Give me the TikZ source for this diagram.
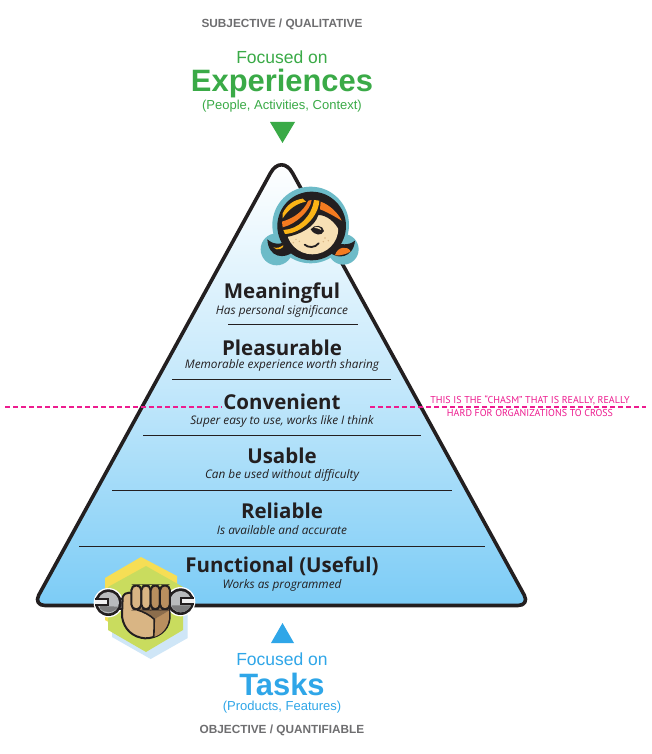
\documentclass[tikz,border=0pt]{standalone}
\usepackage{fontspec}
\setmainfont{Open Sans}
\newfontfamily\arialf{Liberation Sans}
\newfontfamily\condf{PT Sans}
\definecolor{exgreen}{HTML}{3AAA47}
\definecolor{taskblue}{HTML}{2FA6E8}
\definecolor{hdgray}{HTML}{6E6E70}
\definecolor{ink}{HTML}{231F20}
\definecolor{chasmc}{rgb}{0.93,0.11,0.56}
\definecolor{skyb}{HTML}{7CCCF6}
\definecolor{teal}{HTML}{6DBBC8}
\definecolor{hairo}{HTML}{F47B20}
\definecolor{hairy}{HTML}{FBB416}
\definecolor{skin}{HTML}{F7E0B5}
\definecolor{handl}{HTML}{D9B584}
\definecolor{handd}{HTML}{B98F5F}
\definecolor{hexy}{HTML}{F6DE55}
\definecolor{hexg}{HTML}{C9DC5E}
\definecolor{hexb}{HTML}{CFE6F7}
\definecolor{steel}{HTML}{B9BBBD}
\tikzset{
  x=1pt,y=-1pt,
  hdr/.style={font=\arialf\bfseries\fontsize{11.8}{14}\selectfont,text=hdgray,inner sep=0pt},
  focus/.style={font=\arialf\fontsize{17.5}{20}\selectfont,inner sep=0pt},
  big/.style={font=\arialf\bfseries\fontsize{30.9}{33}\selectfont,inner sep=0pt},
  paren/.style={font=\arialf\fontsize{13}{15}\selectfont,inner sep=0pt},
  level/.style={font=\fontsize{20.5}{23}\selectfont\bfseries,text=ink,inner sep=0pt},
  sub/.style={font=\fontsize{11.8}{14}\selectfont\itshape,text=ink,inner sep=0pt},
  sep/.style={draw=ink,line width=1pt},
  chasmline/.style={draw=chasmc,line width=1.1pt,dash pattern=on 4.5pt off 3.5pt},
  chasmtext/.style={font=\condf\fontsize{10}{12.8}\selectfont,text=chasmc,align=center,inner sep=0pt},
  zoomA/.style={shift={(240,150)},x=0.3333pt,y=-0.3333pt},
  zoomB/.style={shift={(20,540)},x=0.3333pt,y=-0.3333pt},
}
\begin{document}
\begin{tikzpicture}
\useasboundingbox[fill=white] (0,0) rectangle (651,754);

% pyramid
\path[draw=ink,line width=3.6pt,line join=round,top color=white,bottom color=skyb,middle color=skyb!45!white]
  (270.4,173.2) .. controls (276.5,162) and (286.5,162) .. (292.6,173.2)
  -- (524.2,595) .. controls (527.4,600.8) and (524.6,605.5) .. (518,605.5)
  -- (45,605.5) .. controls (38.4,605.5) and (35.6,600.8) .. (38.8,595) -- cycle;

% separators
\coordinate (s1a) at (228,324); \coordinate (s1b) at (358,324);
\coordinate (s2a) at (172,379); \coordinate (s2b) at (391,379);
\coordinate (s3a) at (143,435); \coordinate (s3b) at (421,435);
\coordinate (s4a) at (112,490); \coordinate (s4b) at (452,490);
\coordinate (s5a) at (79,546);  \coordinate (s5b) at (485,546);
\draw[sep] (s1a) -- (s1b);
\draw[sep] (s2a) -- (s2b);
\draw[sep] (s3a) -- (s3b);
\draw[sep] (s4a) -- (s4b);
\draw[sep] (s5a) -- (s5b);

% chasm
\coordinate (c1a) at (5,407); \coordinate (c1b) at (222,407);
\coordinate (c2a) at (370,407); \coordinate (c2b) at (646,407);
\draw[chasmline] (c1a) -- (c1b);
\draw[chasmline] (c2a) -- (c2b);
\node[chasmtext] (chasmlabel) at (530,406.5) {THIS IS THE “CHASM” THAT IS REALLY, REALLY\\HARD FOR ORGANIZATIONS TO CROSS};

% header texts
\node[hdr] (subj) at (282,24) {SUBJECTIVE / QUALITATIVE};
\node[focus,text=exgreen] (f1) at (282,57) {Focused on};
\node[big,text=exgreen] (exper) at (282,84) {Experiences};
\node[paren,text=exgreen] (p1) at (282,106) {(People, Activities, Context)};
\fill[exgreen] (270,122) -- (295,122) -- (282.5,143) -- cycle;

% levels
\node[level] (l1) at (282,293) {Meaningful};
\node[sub] (d1) at (282,311) {Has personal significance};
\node[level] (l2) at (282,348) {Pleasurable};
\node[sub] (d2) at (282,365) {Memorable experience worth sharing};
\node[level] (l3) at (282,402) {Convenient};
\node[sub] (d3) at (282,421) {Super easy to use, works like I think};
\node[level] (l4) at (282,456) {Usable};
\node[sub] (d4) at (282,475) {Can be used without difficulty};
\node[level] (l5) at (282,511) {Reliable};
\node[sub] (d5) at (282,530) {Is available and accurate};
\node[level] (l6) at (282,566) {Functional (Useful)};
\node[sub] (d6) at (282,585) {Works as programmed};

% footer
\fill[taskblue] (271,643) -- (294,643) -- (282.5,623) -- cycle;
\node[focus,text=taskblue] (f2) at (282,659) {Focused on};
\node[big,text=taskblue] (tasks) at (282,684) {Tasks};
\node[paren,text=taskblue] (p2) at (282,707) {(Products, Features)};
\node[hdr] (obj) at (282,730) {OBJECTIVE / QUANTIFIABLE};

% ---------- girl face (coordinates of a 3x crop)
\begin{scope}[zoomA]
\fill[teal] (212,225) circle (115);
\fill[teal] (110,298) circle (48);
\fill[teal] (310,298) circle (46);
\fill[ink] (82,268) .. controls (100,285) and (125,285) .. (145,270) -- (160,305) .. controls (135,328) and (85,325) .. (82,268) -- cycle;
\fill[ink] (345,272) .. controls (325,288) and (300,285) .. (280,272) -- (268,305) .. controls (290,330) and (340,325) .. (345,272) -- cycle;
\fill[hairy] (100,292) .. controls (112,296) and (122,292) .. (132,284) .. controls (130,296) and (112,305) .. (100,292) -- cycle;
\fill[hairo] (332,304) .. controls (322,312) and (300,318) .. (285,316) .. controls (292,290) and (322,286) .. (332,304) -- cycle;
\fill[ink] (215,228) circle (103);
\fill[skin] (217,235) circle (78);
% hair mass over the brow
\fill[ink] (120,262) -- (125,180) .. controls (150,135) and (280,120) .. (315,215) -- (300,245) .. controls (285,215) and (260,195) .. (235,195) .. controls (225,230) and (180,255) .. (135,262) -- cycle;
\fill[hairy] (128,190) .. controls (140,165) and (160,150) .. (188,146) -- (198,155) .. controls (170,160) and (145,178) .. (128,205) -- cycle;
\fill[hairo] (126,215) .. controls (160,205) and (190,185) .. (205,152) -- (215,150) .. controls (212,180) and (170,222) .. (128,232) -- cycle;
\fill[hairy] (130,240) .. controls (175,238) and (215,200) .. (222,150) -- (238,152) .. controls (236,200) and (185,250) .. (135,252) -- cycle;
\fill[hairo] (242,155) .. controls (270,165) and (295,190) .. (305,212) .. controls (285,200) and (260,185) .. (240,178) -- cycle;
% eye, mouth, freckles
\fill[ink] (212,238) .. controls (222,222) and (250,225) .. (252,243) .. controls (245,258) and (225,258) .. (212,238) -- cycle;
\fill[skin] (222,233) .. controls (232,228) and (242,232) .. (244,240) .. controls (238,236) and (230,235) .. (222,233) -- cycle;
\draw[ink,line width=1.8pt,line cap=round] (194,284) .. controls (205,294) and (225,294) .. (236,280);
\foreach \fa/\fb in {168/268,178/274,160/278,255/264,265/272,250/275}{\fill[handl] (\fa,\fb) circle (2.4);}
\end{scope}

% ---------- hexagons
\fill[hexb] (150.7,659) -- (187.7,638) -- (187.7,592) -- (150,570) -- (112,592) -- (112,637) -- cycle;
\fill[hexy] (141,557) -- (177,576) -- (178,620) -- (141,640) -- (105,620) -- (105,578) -- cycle;
\fill[hexg] (146,566) -- (183,587) -- (183,630) -- (146,652) -- (108,630) -- (108,587) -- cycle;

% ---------- wrench and fist (coordinates of a 3x crop)
\begin{scope}[zoomB]
\fill[white] (265,188) circle (44);
\fill[white] (482,185) circle (44);
\draw[ink,line width=12pt] (280,192) -- (470,188);
\draw[steel,line width=8pt] (280,192) -- (470,188);
\fill[ink] (265,188) circle (40);
\fill[ink] (482,185) circle (40);
\fill[steel] (265,188) circle (32);
\fill[steel] (482,185) circle (32);
\fill[steel!60!ink] (240,205) .. controls (255,222) and (280,220) .. (296,200) -- (240,198) -- cycle;
\fill[steel!60!ink] (455,200) .. controls (470,222) and (495,222) .. (512,200) -- (512,196) -- (455,196) -- cycle;
\fill[ink] (226,174) -- (268,174) -- (268,198) -- (226,198) -- cycle;
\fill[ink] (521,170) -- (480,170) -- (480,194) -- (521,194) -- cycle;
\fill[white!80!steel] (226,181) -- (262,181) -- (262,192) -- (226,192) -- cycle;
\fill[white!80!steel] (521,177) -- (487,177) -- (487,188) -- (521,188) -- cycle;
\path[fill=handl,draw=ink,line width=2pt,line join=round] (308,172) .. controls (315,152) and (340,155) .. (345,170) -- (448,195) -- (449,235) .. controls (445,275) and (410,295) .. (375,295) .. controls (340,292) and (312,270) .. (306,230) -- cycle;
\path[fill=handd] (403,238) -- (447,212) -- (447,235) .. controls (443,268) and (422,285) .. (401,291) .. controls (403,270) and (402,252) .. (403,238) -- cycle;
\path[fill=handd!70!ink] (345,205) -- (447,205) -- (447,212) -- (403,238) .. controls (390,225) and (368,214) .. (345,210) -- cycle;
\draw[ink,line width=1.6pt] (401,291) .. controls (403,270) and (402,252) .. (403,238) .. controls (390,225) and (368,214) .. (352,210);
\foreach \fa/\fb/\fc in {334/364/handl,364/392/handl,392/420/handd,420/450/handd}{
  \path[fill=\fc,draw=ink,line width=2pt,rounded corners=5pt] (\fa,136) rectangle (\fb,208);
}
\end{scope}
\end{tikzpicture}
\end{document}
